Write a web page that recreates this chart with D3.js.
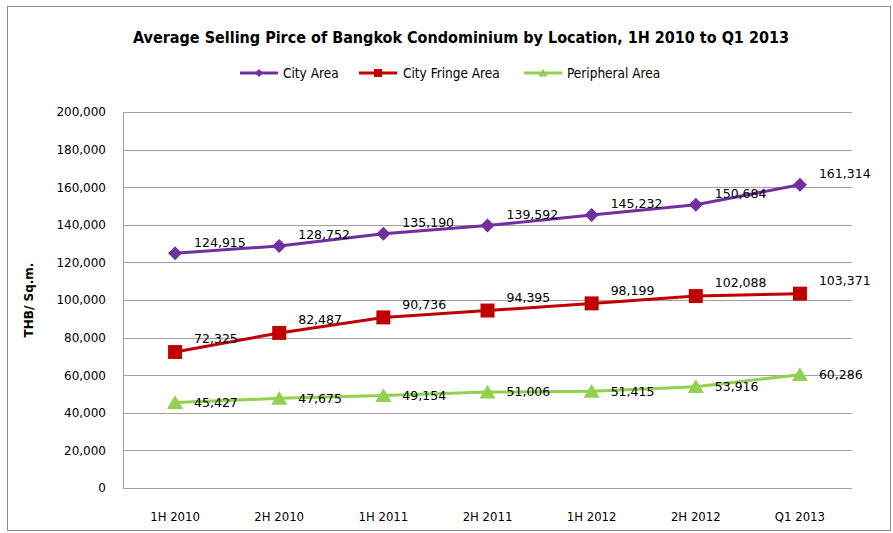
<!DOCTYPE html>
<html>
<head>
<meta charset="utf-8">
<script src="https://cdn.jsdelivr.net/npm/d3@7"></script>
<style>
  body { margin: 0; background: #fff; }
  svg { display: block; }
</style>
</head>
<body>
<div id="main"></div>
<script>
var periods = ['1H 2010', '2H 2010', '1H 2011', '2H 2011', '1H 2012', '2H 2012', 'Q1 2013'];
var cityArea = [124915, 128752, 135190, 139592, 145232, 150684, 161314];
var cityFringe = [72325, 82487, 90736, 94395, 98199, 102088, 103371];
var peripheral = [45427, 47675, 49154, 51006, 51415, 53916, 60286];
var yTicks = [0, 20000, 40000, 60000, 80000, 100000, 120000, 140000, 160000, 180000, 200000];

var series = [
    { name: 'City Area', values: cityArea, color: '#7030A0', marker: 'diamond', dy: -11 },
    { name: 'City Fringe Area', values: cityFringe, color: '#C00000', marker: 'square', dy: -13 },
    { name: 'Peripheral Area', values: peripheral, color: '#92D050', marker: 'triangle', dy: 0 }
];

var narrow = '"Liberation Sans Narrow", "DejaVu Sans Condensed", "Open Sans", sans-serif';
var wide = '"DejaVu Sans", Verdana, sans-serif';

var W = 893, H = 533;
var margins = { top: 112, bottom: 45, left: 123, right: 41 };
var width = W - margins.left - margins.right, height = H - margins.top - margins.bottom;

var svg = d3.select('#main').append('svg')
    .attr('width', W).attr('height', H);

// outer chart frame
svg.append('rect')
    .attr('x', 7.5).attr('y', 6.5)
    .attr('width', 883).attr('height', 524)
    .attr('fill', '#fff')
    .attr('stroke', '#8c8c8c')
    .attr('stroke-width', 1);

svg.append('text')
    .attr('x', 461).attr('y', 43)
    .attr('text-anchor', 'middle')
    .style('font', 'bold 16px ' + narrow)
    .style('fill', '#000')
    .text('Average Selling Pirce of Bangkok Condominium by Location, 1H 2010 to Q1 2013');

var x = d3.scaleBand().domain(periods).range([0, width]);
var y = d3.scaleLinear().domain([0, 200000]).range([height, 0]);

var chart = svg.append('g')
    .attr('transform', 'translate(' + margins.left + ',' + margins.top + ')');

// gridlines
chart.selectAll('.grid').data(yTicks)
    .enter().append('line')
    .attr('class', 'grid')
    .attr('x1', 0).attr('x2', width)
    .attr('y1', function(d) { return Math.round(y(d)) + 0.5; })
    .attr('y2', function(d) { return Math.round(y(d)) + 0.5; })
    .attr('stroke', '#a0a0a0')
    .attr('stroke-width', 1);

var yAxis = d3.axisLeft(y)
    .tickValues(yTicks)
    .tickSize(0)
    .tickPadding(17)
    .tickFormat(d3.format(','));
var gy = chart.append('g').call(yAxis);
gy.select('.domain').attr('stroke', '#a0a0a0').attr('d', 'M0.5,0V' + height);
gy.selectAll('text').style('font', '12px ' + wide).style('fill', '#000');

var xAxis = d3.axisBottom(x).tickSize(0).tickPadding(24);
var gx = chart.append('g')
    .attr('transform', 'translate(0,' + height + ')')
    .call(xAxis);
gx.select('.domain').remove();
gx.selectAll('text').style('font', '13px ' + narrow).style('fill', '#000');

svg.append('text')
    .attr('transform', 'translate(33,300) rotate(-90)')
    .attr('text-anchor', 'middle')
    .style('font', 'bold 12px ' + wide)
    .text('THB/ Sq.m.');

var drawMarker = function(sel, type, color, s) {
    if (type === 'diamond') {
        sel.append('path').attr('d', 'M0,' + (-s) + 'L' + s + ',0L0,' + s + 'L' + (-s) + ',0Z').attr('fill', color);
    } else if (type === 'square') {
        sel.append('rect').attr('x', -s).attr('y', -s).attr('width', 2 * s).attr('height', 2 * s).attr('fill', color);
    } else {
        sel.append('path').attr('d', 'M0,' + (-s * 1.05) + 'L' + (s * 1.15) + ',' + (s * 0.9) + 'L' + (-s * 1.15) + ',' + (s * 0.9) + 'Z').attr('fill', color);
    }
};

var line = d3.line()
    .x(function(d, i) { return x(periods[i]) + x.bandwidth() / 2; })
    .y(function(d) { return y(d); });

series.forEach(function(s) {
    chart.append('path')
        .attr('d', line(s.values))
        .attr('fill', 'none')
        .attr('stroke', s.color)
        .attr('stroke-width', 3);

    var pts = chart.selectAll('.pt-' + s.marker).data(s.values)
        .enter().append('g')
        .attr('transform', function(d, i) {
            return 'translate(' + (x(periods[i]) + x.bandwidth() / 2) + ',' + y(d) + ')';
        });
    pts.each(function() {
        drawMarker(d3.select(this), s.marker, s.color, 7);
    });

    chart.selectAll('.lbl-' + s.marker).data(s.values)
        .enter().append('text')
        .attr('x', function(d, i) { return x(periods[i]) + x.bandwidth() / 2 + 19; })
        .attr('y', function(d) { return y(d) + s.dy; })
        .attr('dy', '0.35em')
        .style('font', '12.5px ' + wide)
        .style('fill', '#000')
        .text(function(d) { return d3.format(',')(d); });
});

// legend
var legendItems = [
    { x: 240, tx: 283 },
    { x: 359, tx: 403 },
    { x: 524, tx: 567 }
];
series.forEach(function(s, i) {
    var li = legendItems[i];
    var g = svg.append('g').attr('transform', 'translate(' + li.x + ',73)');
    g.append('line')
        .attr('x1', 0).attr('x2', 38)
        .attr('y1', 0).attr('y2', 0)
        .attr('stroke', s.color).attr('stroke-width', 3);
    var m = g.append('g').attr('transform', 'translate(19,0)');
    drawMarker(m, s.marker, s.color, 4);
    svg.append('text')
        .attr('x', li.tx).attr('y', 73)
        .attr('dy', '0.35em')
        .style('font', '13.5px ' + narrow)
        .style('fill', '#000')
        .text(s.name);
});
</script>
</body>
</html>
